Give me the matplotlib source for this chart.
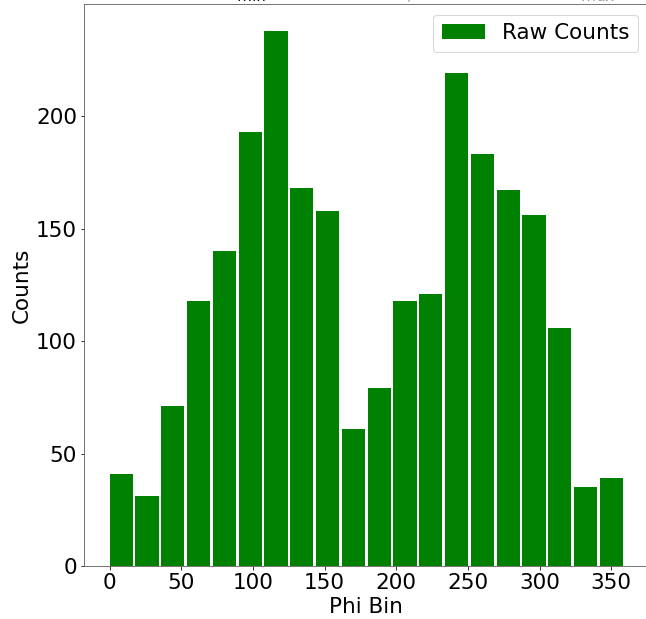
import numpy as np
import matplotlib
matplotlib.use("Agg")
import matplotlib.pyplot as plt

# phi bins (left edges, 18 deg wide) and raw counts
bin_edges = np.arange(0, 360, 18)
counts = [41, 31, 71, 118, 140, 193, 238, 168, 158, 61,
          79, 118, 121, 219, 183, 167, 156, 106, 35, 39]
bin_width = 18

fig, ax = plt.subplots(figsize=(646 / 72, 619 / 72), dpi=72)
# the original image is cropped a little on the right, so the axes runs past the edge
plt.subplots_adjust(left=84 / 646, right=648.6 / 646, top=1 - 4 / 619, bottom=1 - 566 / 619)

ax.bar(bin_edges, counts, width=0.9 * bin_width, align='edge',
       color='green', label='Raw Counts')

fs = 21.5
ax.set_xlabel('Phi Bin', fontsize=fs)
ax.set_ylabel('Counts', fontsize=fs)
ax.tick_params(labelsize=fs)
ax.set_xticks(np.arange(0, 351, 50))
ax.legend(fontsize=fs, loc='upper right')

for s in ax.spines.values():
    s.set_color('#555555')

# title sits mostly above the figure edge (clipped in the original)
ty = 1 + 2 / 619
fig.text(0.38, ty, r'$E_{min}$', fontsize=fs, ha='center', va='baseline')
fig.text(0.64, ty, r'$Q_{D,max}$', fontsize=fs, ha='center', va='baseline', alpha=0.4)
fig.text(0.92, ty, r'$t_{max}$', fontsize=fs, ha='center', va='baseline', alpha=0.4)

plt.savefig('out.png')
